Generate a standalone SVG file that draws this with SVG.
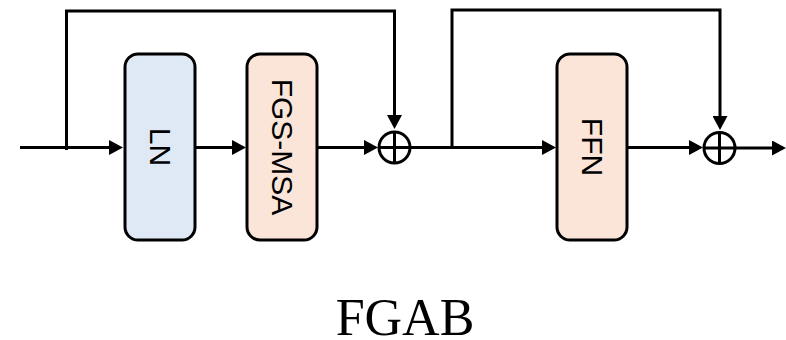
<svg xmlns="http://www.w3.org/2000/svg" width="786" height="340" viewBox="0 0 786 340">
  <style>
    .box { stroke: #000; stroke-width: 3; }
    .ln { fill: #dfe9f5; }
    .peach { fill: #fae5d8; }
    .lbl { font-family: "Liberation Sans", Arial, sans-serif; font-size: 30px; fill: #000; }
    .edge { fill: none; stroke: #000; stroke-width: 3; }
    .title { font-family: "Liberation Serif", "Times New Roman", serif; font-size: 52px; fill: #000; }
  </style>
  <defs>
    <marker id="arr" viewBox="0 0 14 15" refX="11" refY="7.5" markerWidth="14" markerHeight="15" markerUnits="userSpaceOnUse" orient="auto">
      <path d="M0,0 L14,7.5 L0,15 z" fill="#000"/>
    </marker>
  </defs>

  <g id="connectors">
    <path class="edge" d="M20,147.5 L120,147.5" marker-end="url(#arr)"/>
    <path class="edge" d="M195,147.5 L243,147.5" marker-end="url(#arr)"/>
    <path class="edge" d="M317,147.5 L375,147.5" marker-end="url(#arr)"/>
    <path class="edge" d="M410,147.5 L553,147.5" marker-end="url(#arr)"/>
    <path class="edge" d="M627,147.5 L700,147.5" marker-end="url(#arr)"/>
    <path class="edge" d="M735,148 L783,148" marker-end="url(#arr)"/>
    <path class="edge" d="M66.5,150 L66.5,11 L394.5,11 L394.5,126" marker-end="url(#arr)"/>
    <path class="edge" d="M452,147.5 L452,10 L720,10 L720,127" marker-end="url(#arr)"/>
  </g>

  <g id="ln">
    <rect class="box ln" x="125" y="54" width="70" height="186" rx="13" ry="13"/>
    <text class="lbl" transform="translate(160,147) rotate(90)" text-anchor="middle" dominant-baseline="central">LN</text>
  </g>

  <g id="fgs-msa">
    <rect class="box peach" x="247" y="54" width="70" height="186" rx="13" ry="13"/>
    <text class="lbl" transform="translate(282,147) rotate(90)" text-anchor="middle" dominant-baseline="central">FGS-MSA</text>
  </g>

  <g id="add1">
    <circle cx="394.5" cy="147.5" r="15.5" fill="none" stroke="#000" stroke-width="3"/>
    <path d="M394.5,132 L394.5,163 M379,147.5 L410,147.5" stroke="#000" stroke-width="3"/>
  </g>

  <g id="ffn">
    <rect class="box peach" x="557" y="54" width="70" height="186" rx="13" ry="13"/>
    <text class="lbl" transform="translate(592,147) rotate(90)" text-anchor="middle" dominant-baseline="central">FFN</text>
  </g>

  <g id="add2">
    <circle cx="719.5" cy="148" r="15.5" fill="none" stroke="#000" stroke-width="3"/>
    <path d="M719.5,132.5 L719.5,163.5 M704,148 L735,148" stroke="#000" stroke-width="3"/>
  </g>

  <g id="title">
    <text class="title" x="405" y="335" text-anchor="middle">FGAB</text>
  </g>
</svg>
